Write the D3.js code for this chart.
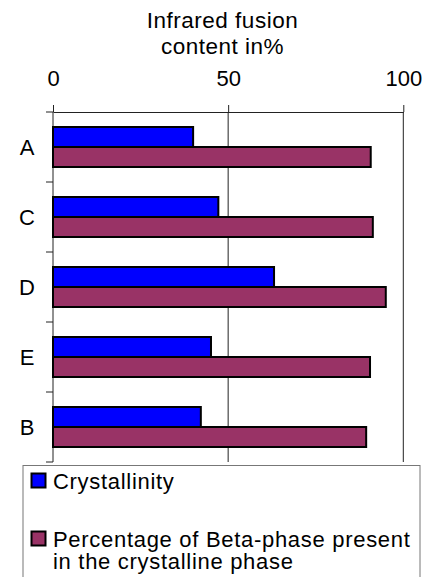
<!DOCTYPE html>
<html><head><meta charset="utf-8">
<script src="https://cdn.jsdelivr.net/npm/d3@7"></script>
<style>body{margin:0;background:#fff;} svg{display:block;font-family:"Liberation Sans",Arial,Helvetica,sans-serif;}</style>
</head><body>
<script>
const categories = ["A","C","D","E","B"];
const seriesNames = ["Crystallinity","Percentage of Beta-phase present in the crystalline phase"];
const crystallinity = [40.0, 47.2, 63.1, 45.1, 42.2];
const betaPhase = [90.7, 91.3, 95.0, 90.5, 89.4];
const xTicks = [0, 50, 100];
const titleLines = ["Infrared fusion","content in%"];
const legendLines = [["Crystallinity"],["Percentage of Beta-phase present","in the crystalline phase"]];
const colors = ["#0000ff","#993366"];

const W=437,H=577;
const svg=d3.select("body").append("svg").attr("width",W).attr("height",H);
const pL=53,pR=403.3,pT=112,pB=462;
const x=d3.scaleLinear().domain([0,100]).range([pL,pR]);
const y=d3.scaleBand().domain(categories).range([pT,pB]);
const sub=d3.scaleBand().domain([0,1]).range([15,55]);

// gridlines
svg.append("g").selectAll("line").data(xTicks.slice(1)).join("line")
 .attr("x1",d=>x(d)).attr("x2",d=>x(d)).attr("y1",pT).attr("y2",pB)
 .attr("stroke","#222").attr("stroke-width",1);

// top axis
const xa=svg.append("g").attr("transform",`translate(0,${pT})`)
 .call(d3.axisTop(x).tickValues(xTicks).tickSize(7).tickPadding(0).tickSizeOuter(0));
xa.select(".domain").attr("stroke","#222");
xa.selectAll(".tick line").attr("stroke","#222");
xa.selectAll(".tick text").attr("y",-26).attr("dy",0).attr("font-size",22).attr("fill","#000")
 .attr("font-family","Liberation Sans,Arial,sans-serif");

// left axis with ticks at band boundaries
const ya=svg.append("g").attr("transform",`translate(${pL},0)`);
ya.append("line").attr("x1",0).attr("x2",0).attr("y1",pT).attr("y2",pB).attr("stroke","#222");
const bounds=categories.map(c=>y(c)).concat([pB]);
ya.selectAll("line.tk").data(bounds).join("line").attr("class","tk")
 .attr("x1",-7).attr("x2",0).attr("y1",d=>d).attr("y2",d=>d).attr("stroke","#222");
ya.selectAll("text").data(categories).join("text")
 .attr("x",-26).attr("y",d=>y(d)+y.bandwidth()/2+8).attr("text-anchor","middle")
 .attr("font-size",22).text(d=>d);

// bars
const series=[crystallinity,betaPhase];
series.forEach((vals,si)=>{
 svg.append("g").selectAll("rect").data(categories).join("rect")
  .attr("x",x(0)).attr("y",(d)=>y(d)+sub(si)).attr("width",(d,i)=>x(vals[i])-x(0))
  .attr("height",sub.bandwidth()).attr("fill",colors[si]).attr("stroke","#000").attr("stroke-width",2);
});

// title
svg.append("g").selectAll("text").data(titleLines).join("text")
 .attr("x",222.5).attr("y",(d,i)=>28+i*26).attr("text-anchor","middle")
 .attr("font-size",22.5).attr("letter-spacing",0.5).text(d=>d);

// legend
const lg=svg.append("g");
lg.append("rect").attr("x",23).attr("y",465.5).attr("width",397).attr("height",130)
 .attr("fill","#fff").attr("stroke","#777").attr("stroke-width",1);
const ly=[473,531];
legendLines.forEach((lines,i)=>{
 lg.append("rect").attr("x",31.5).attr("y",ly[i]+0.5).attr("width",14).attr("height",14)
  .attr("fill",colors[i]).attr("stroke","#000").attr("stroke-width",2);
 lines.forEach((t,j)=>{
  lg.append("text").attr("x",53).attr("y",ly[i]+16+j*22).attr("font-size",22)
   .attr("letter-spacing",0.7).text(t);
 });
});
</script>
</body></html>
